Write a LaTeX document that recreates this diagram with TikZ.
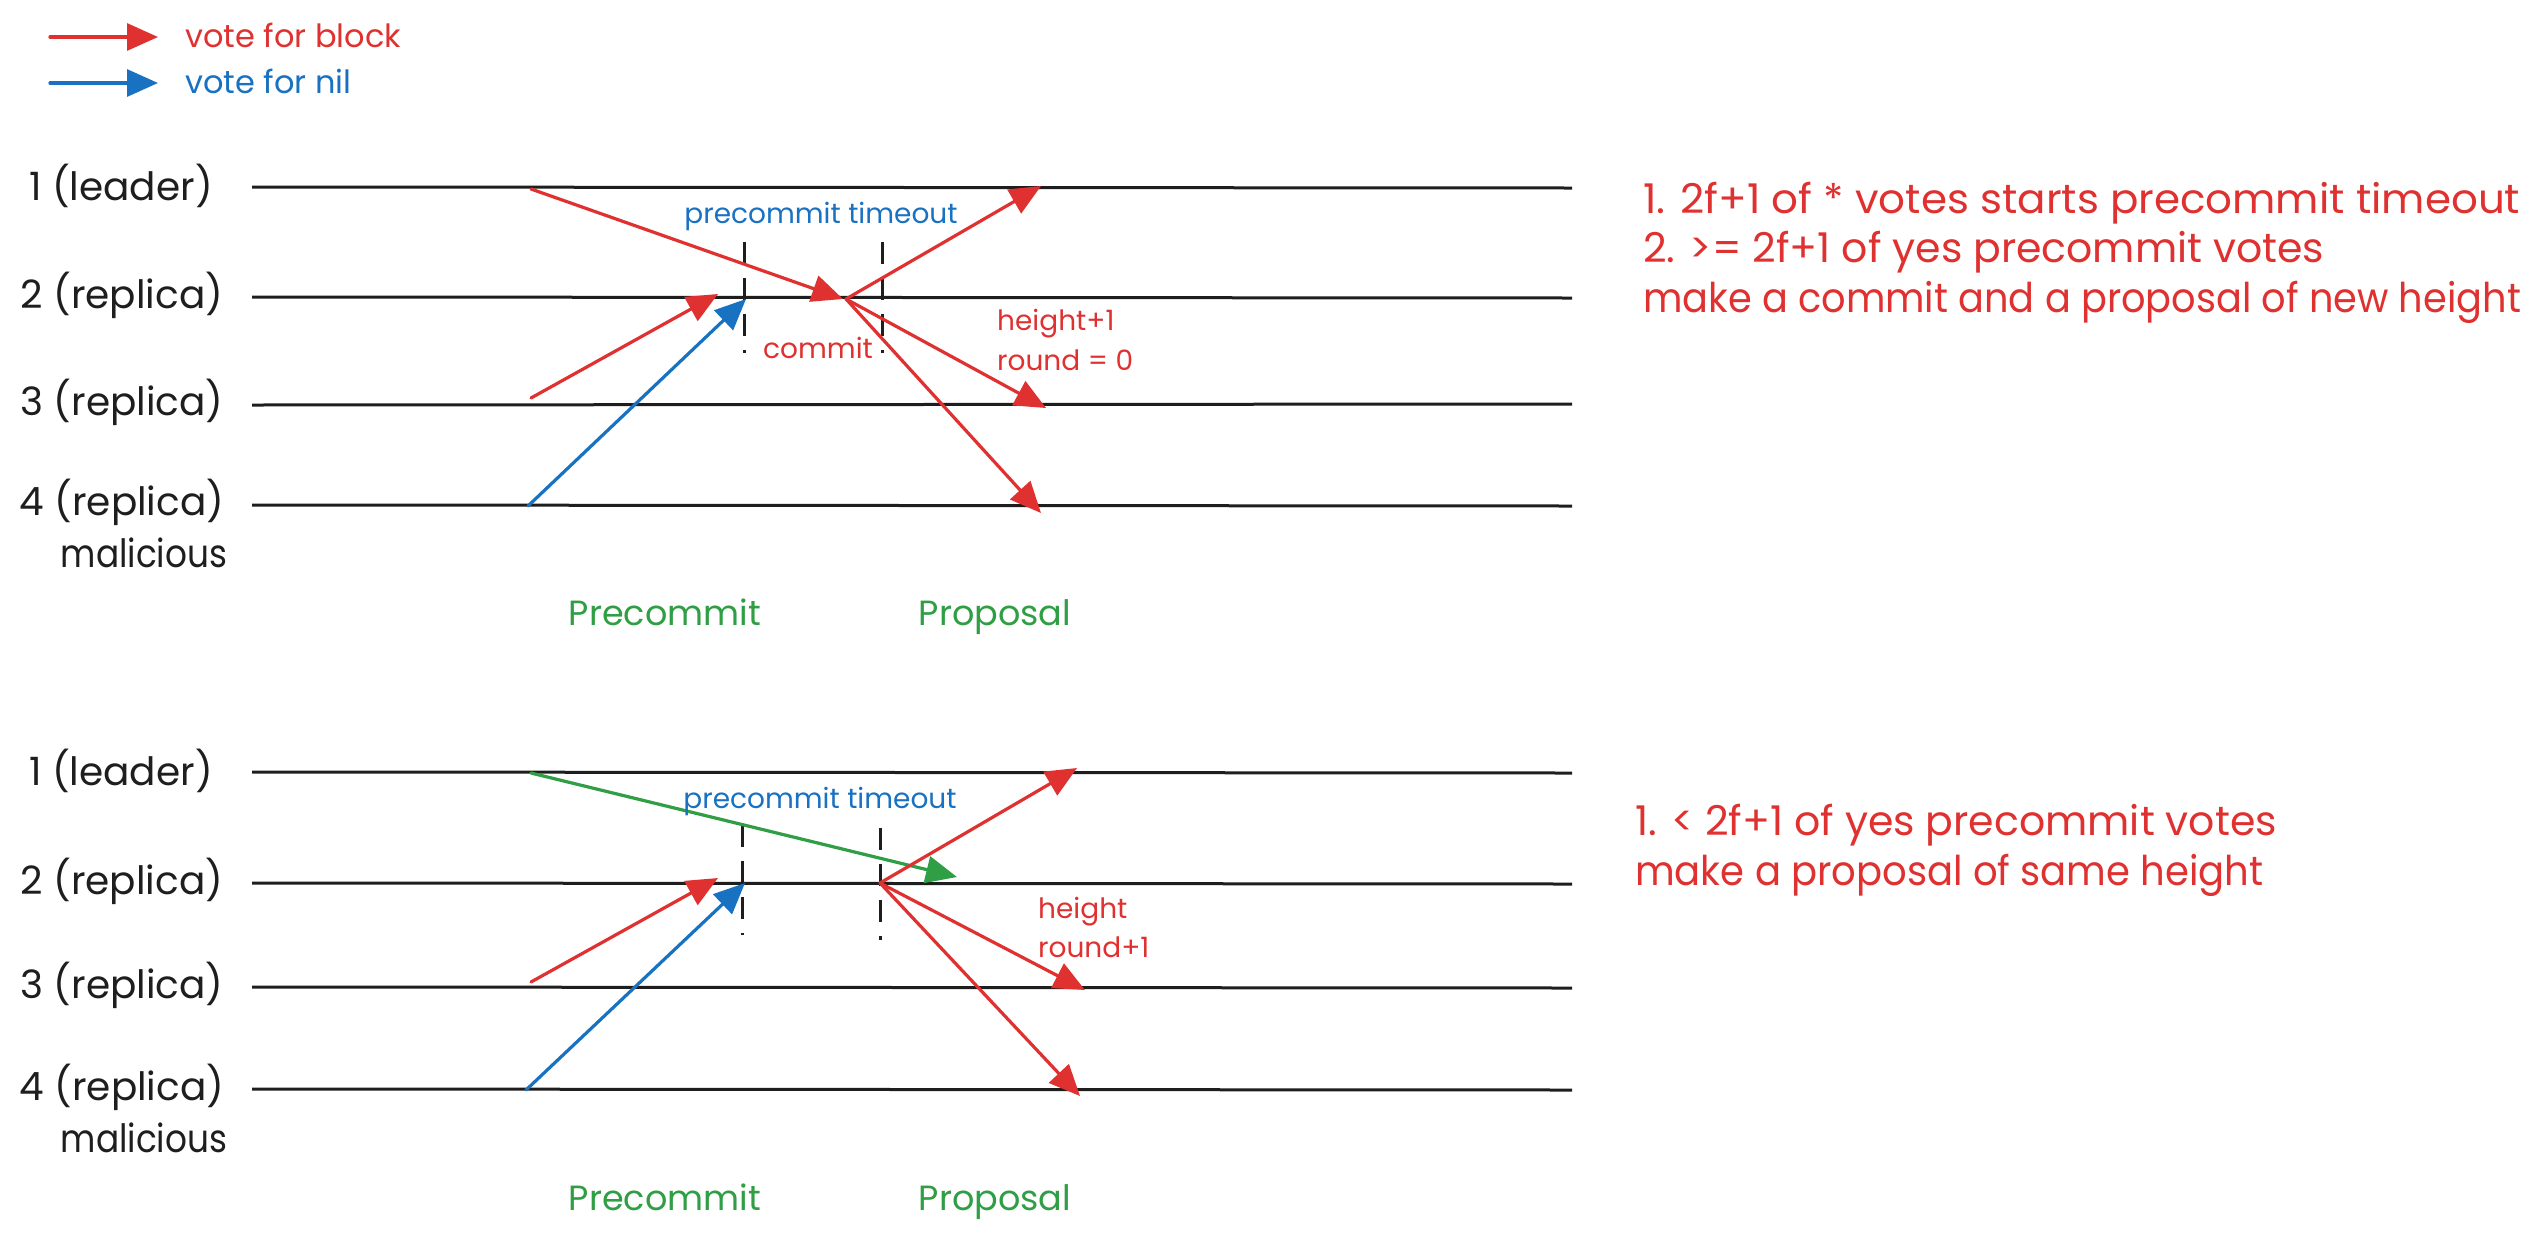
\documentclass[tikz,border=0pt]{standalone}
\usepackage{fontspec}
\setmainfont{Poppins}
\usetikzlibrary{arrows.meta}
\definecolor{xred}{HTML}{E03131}
\definecolor{xblue}{HTML}{1971C2}
\definecolor{xgreen}{HTML}{2F9E44}
\definecolor{xblack}{HTML}{1E1E1E}
\begin{document}
\begin{tikzpicture}[x=1pt,y=-1pt,
  lane/.style={xblack,line width=3pt},
  vote/.style={line width=3.2pt,line cap=round,-{Triangle[length=31pt,width=27pt]}},
  tmark/.style={xblack,line width=3pt,dash pattern=on 22pt off 14pt},
  bigtxt/.style={font=\fontsize{41}{48}\selectfont,inner sep=0pt},
  lbltxt/.style={font=\fontsize{39}{46}\selectfont,inner sep=0pt,xblack},
  phasetxt/.style={font=\fontsize{35}{42}\selectfont,inner sep=0pt,xgreen},
  legtxt/.style={font=\fontsize{32}{38}\selectfont,inner sep=0pt},
  smalltxt/.style={font=\fontsize{28}{33}\selectfont,inner sep=0pt},
]
\useasboundingbox (0,0) rectangle (2541,1235);
\fill[white] (0,0) rectangle (2541,1235);

% legend
\coordinate (lr1) at (50,37); \coordinate (lr2) at (158,37);
\coordinate (lb1) at (50,83); \coordinate (lb2) at (158,83);
\draw[vote,xred] (lr1) -- (lr2);
\draw[vote,xblue] (lb1) -- (lb2);
\node[legtxt,xred,anchor=base west] (lgr) at (185,47) {vote for block};
\node[legtxt,xblue,anchor=base west] (lgb) at (185,93) {vote for nil};

% ---------- top diagram ----------
\coordinate (t1s) at (252,187); \coordinate (t1e) at (1572,188);
\coordinate (t2s) at (252,297); \coordinate (t2e) at (1572,298);
\coordinate (t3s) at (252,405); \coordinate (t3e) at (1572,404);
\coordinate (t4s) at (252,505); \coordinate (t4e) at (1572,506);
\foreach \i in {1,...,4} {\draw[lane] (t\i s) -- (t\i e);}

\node[lbltxt,anchor=base] (tl1) at (121,200) {1 (leader)};
\node[lbltxt,anchor=base] (tl2) at (122,308) {2 (replica)};
\node[lbltxt,anchor=base] (tl3) at (122,415) {3 (replica)};
\node[lbltxt,anchor=base] (tl4) at (122,515) {4 (replica)};
\node[lbltxt,anchor=base] (tl5) at (144,567) {\scalebox{0.88}[1]{malicious}};

\coordinate (ta1) at (531,189); \coordinate (ta2) at (843,299);
\coordinate (tb1) at (531,398); \coordinate (tb2) at (718,294);
\coordinate (tc1) at (528,506); \coordinate (tc2) at (746,299);
\coordinate (to) at (846,299);
\coordinate (to1) at (1041,186); \coordinate (to3) at (1046,408); \coordinate (to4) at (1041,513);
\coordinate (td1a) at (744,242); \coordinate (td1b) at (744,353);
\coordinate (td2a) at (882,242); \coordinate (td2b) at (882,353);

\draw[tmark] (td1a) -- (td1b);
\draw[tmark] (td2a) -- (td2b);
\draw[vote,xred] (ta1) -- (ta2);
\draw[vote,xred] (tb1) -- (tb2);
\draw[vote,xblue] (tc1) -- (tc2);
\draw[vote,xred] (to) -- (to1);
\draw[vote,xred] (to) -- (to3);
\draw[vote,xred] (to) -- (to4);

\node[smalltxt,xblue,anchor=base] (ttime) at (821,223) {precommit timeout};
\node[smalltxt,xred,anchor=base] (tcommit) at (818,358) {commit};
\node[smalltxt,xred,anchor=base west] (th) at (997,330) {height+1};
\node[smalltxt,xred,anchor=base west] (tr) at (997,370) {round = 0};

\node[phasetxt,anchor=base] (tpre) at (665,625) {Precommit};
\node[phasetxt,anchor=base] (tpro) at (995,625) {Proposal};

\node[bigtxt,xred,anchor=base west] (tn1) at (1643,213) {\scalebox{1.025}[1]{1. 2f+1 of * votes starts precommit timeout}};
\node[bigtxt,xred,anchor=base west] (tn2) at (1643,262) {2. >= 2f+1 of yes precommit votes};
\node[bigtxt,xred,anchor=base west] (tn3) at (1643,312) {\scalebox{0.934}[1]{make a commit and a proposal of new height}};

% ---------- bottom diagram ----------
\coordinate (b1s) at (252,772); \coordinate (b1e) at (1572,773);
\coordinate (b2s) at (252,883); \coordinate (b2e) at (1572,884);
\coordinate (b3s) at (252,987); \coordinate (b3e) at (1572,988);
\coordinate (b4s) at (252,1089); \coordinate (b4e) at (1572,1090);
\foreach \i in {1,...,4} {\draw[lane] (b\i s) -- (b\i e);}

\node[lbltxt,anchor=base] (bl1) at (121,785) {1 (leader)};
\node[lbltxt,anchor=base] (bl2) at (122,894) {2 (replica)};
\node[lbltxt,anchor=base] (bl3) at (122,998) {3 (replica)};
\node[lbltxt,anchor=base] (bl4) at (122,1100) {4 (replica)};
\node[lbltxt,anchor=base] (bl5) at (144,1152) {\scalebox{0.88}[1]{malicious}};

\coordinate (ba1) at (531,773); \coordinate (ba2) at (957,877);
\coordinate (bb1) at (531,982); \coordinate (bb2) at (718,878);
\coordinate (bc1) at (526,1090); \coordinate (bc2) at (745,883);
\coordinate (bo) at (880,883);
\coordinate (bo1) at (1077,768); \coordinate (bo3) at (1085,990); \coordinate (bo4) at (1080,1096);
\coordinate (bd1a) at (742,825); \coordinate (bd1b) at (742,935);
\coordinate (bd2a) at (880,828); \coordinate (bd2b) at (880,940);

\draw[tmark] (bd1a) -- (bd1b);
\draw[tmark] (bd2a) -- (bd2b);
\draw[vote,xgreen] (ba1) -- (ba2);
\draw[vote,xred] (bb1) -- (bb2);
\draw[vote,xblue] (bc1) -- (bc2);
\draw[vote,xred] (bo) -- (bo1);
\draw[vote,xred] (bo) -- (bo3);
\draw[vote,xred] (bo) -- (bo4);

\node[smalltxt,xblue,anchor=base] (btime) at (820,808) {precommit timeout};
\node[smalltxt,xred,anchor=base west] (bh) at (1038,918) {height};
\node[smalltxt,xred,anchor=base west] (br) at (1038,957) {round+1};

\node[phasetxt,anchor=base] (bpre) at (665,1210) {Precommit};
\node[phasetxt,anchor=base] (bpro) at (995,1210) {Proposal};

\node[bigtxt,xred,anchor=base west] (bn1) at (1635,835) {1. < 2f+1 of yes precommit votes};
\node[bigtxt,xred,anchor=base west] (bn2) at (1635,885) {\scalebox{0.94}[1]{make a proposal of same height}};
\end{tikzpicture}
\end{document}
